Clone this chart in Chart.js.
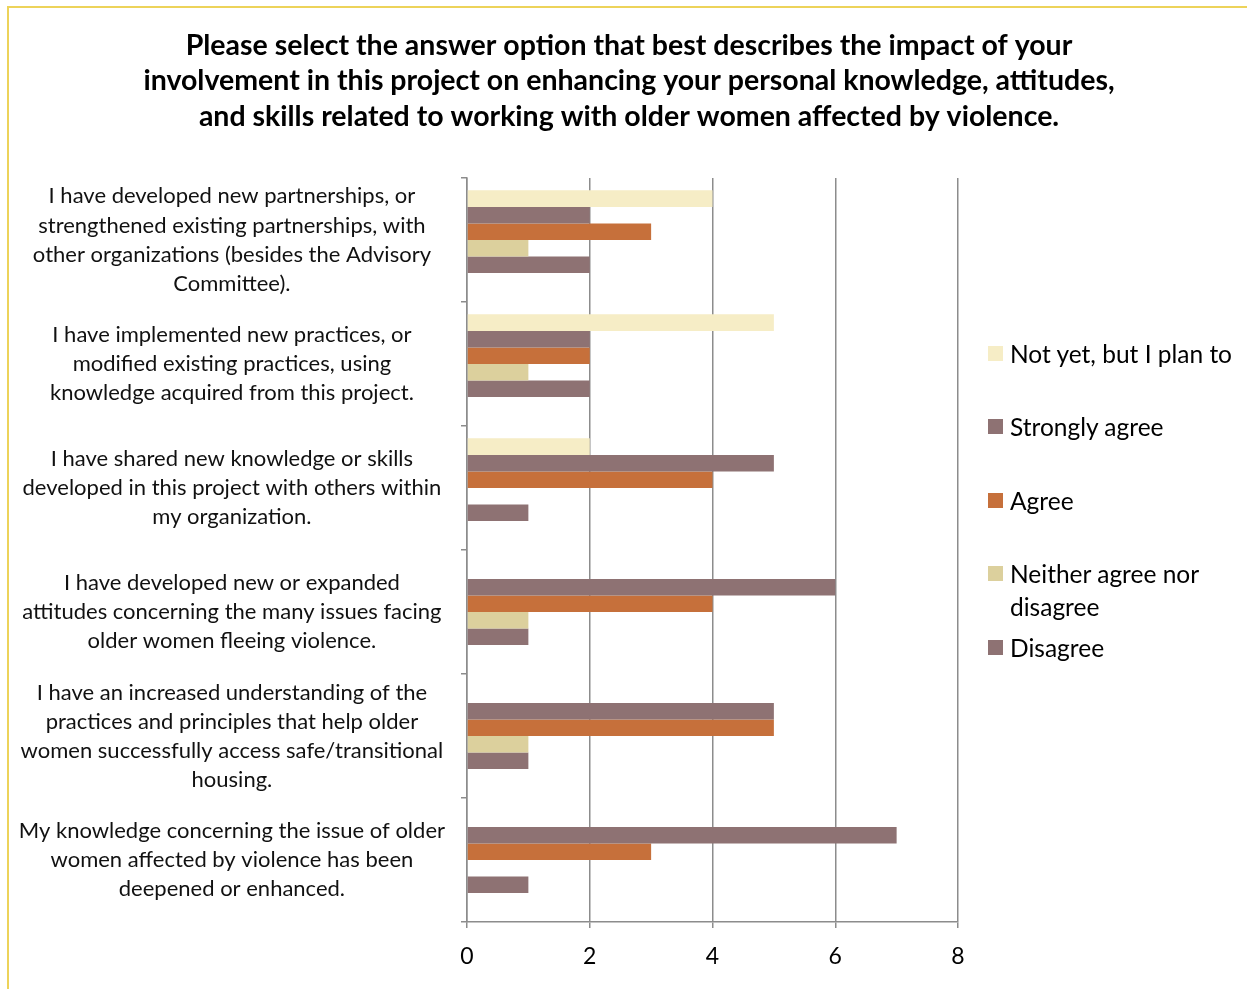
<!DOCTYPE html>
<html><head><meta charset="utf-8">
<script src="https://cdn.jsdelivr.net/npm/chart.js@4"></script>
<style>
html,body{margin:0;padding:0;background:#fff;}
#wrap{position:relative;width:1247px;height:989px;overflow:hidden;background:#fff;}
#frame{position:absolute;left:7px;top:6px;width:1400px;height:1200px;border-left:2px solid #EDD35A;border-top:2px solid #EDD35A;pointer-events:none;}
#legend{position:absolute;left:988px;top:0;font-family:Lato, sans-serif;font-size:24.5px;color:#000;}
.item{position:absolute;left:0;width:258px;line-height:33px;}
.sw{position:absolute;left:0;top:9px;width:15px;height:15px;}
.tx{margin-left:22px;}
</style></head>
<body><div id="wrap"><canvas id="c" width="1247" height="989"></canvas><div id="frame"></div><div id="legend"></div></div>
<script>
const titleLines = [
  "Please select the answer option that best describes the impact of your",
  "involvement in this project on enhancing your personal knowledge, attitudes,",
  "and skills related to working with older women affected by violence."
];
const categories = [
  ["I have developed new partnerships, or", "strengthened existing partnerships, with", "other organizations (besides the Advisory", "Committee)."],
  ["I have implemented new practices, or", "modified existing practices, using", "knowledge acquired from this project."],
  ["I have shared new knowledge or skills", "developed in this project with others within", "my organization."],
  ["I have developed new or expanded", "attitudes concerning the many issues facing", "older women fleeing violence."],
  ["I have an increased understanding of the", "practices and principles that help older", "women successfully access safe/transitional", "housing."],
  ["My knowledge concerning the issue of older", "women affected by violence has been", "deepened or enhanced."]
];
const seriesNames = ["Not yet, but I plan to", "Strongly agree", "Agree", "Neither agree nor disagree", "Disagree"];
const notYet        = [4, 5, 2, 0, 0, 0];
const stronglyAgree = [2, 2, 5, 6, 5, 7];
const agree         = [3, 2, 4, 4, 5, 3];
const neither       = [1, 1, 0, 1, 1, 0];
const disagree      = [2, 2, 1, 1, 1, 1];
const emptySlot     = [null, null, null, null, null, null];
const xTicks = [0, 2, 4, 6, 8];
const seriesColors = ["#F6EDC6", "#8E7273", "#C6703B", "#DCD09D", "#8E7273"];

const seriesData = [notYet, stronglyAgree, agree, neither, disagree];
const datasets = seriesNames.map((n, i) => ({
  label: n, data: seriesData[i], backgroundColor: seriesColors[i], borderWidth: 0
}));
datasets.push({ label: "", data: emptySlot, backgroundColor: "rgba(0,0,0,0)", borderWidth: 0 });

const gridCol = "#8c8c8c";
new Chart(document.getElementById("c"), {
  type: "bar",
  data: { labels: categories, datasets },
  options: {
    indexAxis: "y",
    responsive: false,
    animation: false,
    layout: { padding: { left: 11, right: 0, top: 0, bottom: 3 } },
    datasets: { bar: { categoryPercentage: 0.8, barPercentage: 1.0 } },
    plugins: {
      legend: { display: false },
      tooltip: { enabled: false },
      title: {
        display: true, text: titleLines, color: "#000",
        font: { family: "Lato", weight: "bold", size: 28.5, lineHeight: 1.245 },
        padding: { top: 28, bottom: 43.5 }
      }
    },
    scales: {
      x: {
        min: 0, max: 8,
        afterBuildTicks: s => { s.ticks = xTicks.map(v => ({ value: v })); },
        afterFit: s => { s.paddingLeft = 0; s.paddingRight = 0; },
        ticks: { color: "#000", font: { family: "Lato", size: 23 }, padding: 15.2 },
        grid: { color: gridCol, lineWidth: 1.5, tickLength: 6, drawTicks: true },
        border: { color: gridCol, width: 1.5 }
      },
      y: {
        afterFit: s => { s.width = 456; s.paddingTop = 0; s.paddingBottom = 0; },
        ticks: { color: "#111", font: { family: "Lato", size: 22, lineHeight: 1.32 }, padding: 16, crossAlign: "center" },
        grid: { drawOnChartArea: false, drawTicks: true, tickLength: 6, offset: true, color: gridCol, lineWidth: 1.5 },
        border: { color: gridCol, width: 1.5 }
      },
      legendSpace: {
        type: "linear", position: "right", display: true,
        afterFit: s => { s.width = 289; s.paddingTop = 0; s.paddingBottom = 0; },
        ticks: { display: false },
        grid: { display: false, drawTicks: false },
        border: { display: false }
      }
    }
  }
});

const lg = document.getElementById("legend");
seriesNames.forEach((n, i) => {
  const it = document.createElement("div");
  it.className = "item";
  it.style.top = (336.5 + 73.5 * i) + "px";
  const sw = document.createElement("div");
  sw.className = "sw"; sw.style.background = seriesColors[i];
  const tx = document.createElement("div");
  tx.className = "tx"; tx.textContent = n;
  it.appendChild(sw); it.appendChild(tx);
  lg.appendChild(it);
});
</script>
</body></html>
